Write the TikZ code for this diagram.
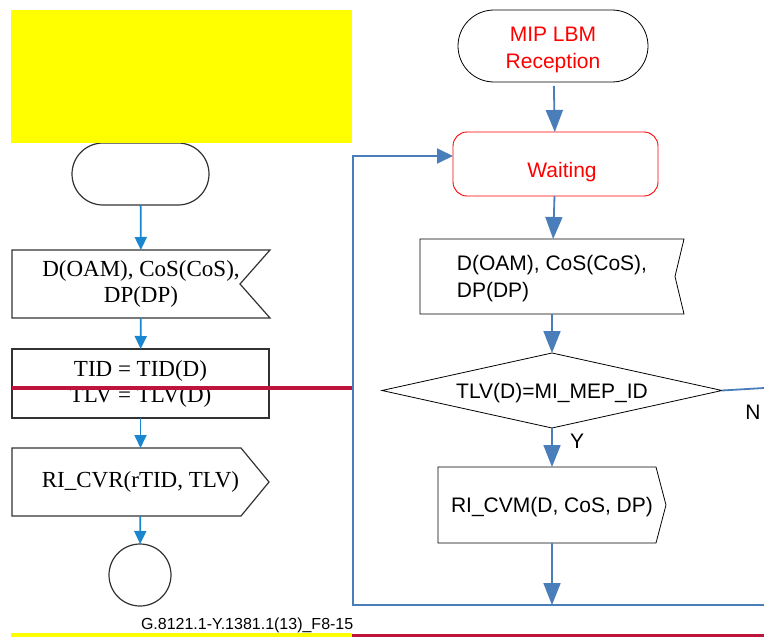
\documentclass[tikz,border=0pt]{standalone}
\usepackage{fontspec}
\setmainfont{Liberation Sans}
\newfontfamily\timesfont{Liberation Serif}
\usetikzlibrary{arrows.meta, shapes.geometric, calc}

\definecolor{leftblue}{RGB}{26,134,207}
\definecolor{rightblue}{RGB}{74,126,187}
\definecolor{crimsonline}{RGB}{190,20,60}
\definecolor{boxgray}{RGB}{50,50,50}
\definecolor{markyellow}{RGB}{255,255,0}

\begin{document}
\begin{tikzpicture}[x=1pt, y=-1pt,
                    every node/.style={inner sep=0pt, outer sep=0pt},
                    leftbox/.style={rectangle, font=\timesfont\fontsize{23}{26}\selectfont, align=center},
                    rightbox/.style={rectangle, font=\fontsize{21}{27}\selectfont, align=center, text depth=0pt},
                    leftline/.style={draw=boxgray, line width=1.2pt, line join=miter},
                    rightline/.style={draw=black, line width=0.8pt, line join=miter},
                    leftarrow/.style={draw=leftblue, line width=1.8pt, -{Triangle[length=13pt, width=12pt]}},
                    rightarrow/.style={draw=rightblue, line width=1.8pt, -{Triangle[length=22pt, width=17pt]}}
                   ]

    \useasboundingbox (0,0) rectangle (764,637);

    % Left column (old figure)
    \node[leftbox, leftline, rounded corners=31pt, minimum width=137pt, minimum height=62pt] (startL) at (140.5,174) {};
    \node[leftbox, minimum width=258pt, minimum height=68pt] (recvL) at (141,284) {D(OAM), CoS(CoS),\\DP(DP)};
    \node[leftbox, leftline, minimum width=257pt, minimum height=69pt] (tidL) at (140.5,383.5) {TID = TID(D)\\TLV = TLV(D)};
    \node[leftbox, minimum width=257pt, minimum height=68pt] (cvrL) at (140.5,482) {RI\_CVR(rTID, TLV)};
    \node[leftbox, leftline, circle, minimum size=62pt] (stopL) at (140,575) {};

    % notch and pointer outlines
    \draw[leftline] (recvL.north west) -- (recvL.north east) -- ($(recvL.east)+(-30,0)$)
        -- (recvL.south east) -- (recvL.south west) -- cycle;
    \draw[leftline] (cvrL.north west) -- ($(cvrL.north east)+(-28,0)$) -- (cvrL.east)
        -- ($(cvrL.south east)+(-28,0)$) -- (cvrL.south west) -- cycle;

    \draw[leftarrow] (startL) -- (recvL);
    \draw[leftarrow] (recvL) -- (tidL);
    \draw[leftarrow] (tidL) -- (cvrL);
    \draw[leftarrow] (cvrL) -- (stopL);

    % Cover boxes and lines
    \fill[markyellow] (11,10) rectangle (352,143);
    \draw[crimsonline, line width=3.5pt] (12,388) -- (352,388);
    \draw[markyellow, line width=4pt] (11,635) -- (352,635);
    \draw[crimsonline, line width=3pt] (352,635) -- (764,635);
    \node[font=\fontsize{16}{18}\selectfont, anchor=west] (figid) at (141,625) {G.8121.1-Y.1381.1(13)\_F8-15};

    % Right column (new figure)
    \node[rightbox, rightline, rounded corners=36pt, minimum width=190pt, minimum height=72pt] (mip) at (553,46) {};
    \node[rightbox, text=red] (miptext) at ($(mip.center)+(0,1.5)$) {MIP LBM\\Reception};
    \node[rightbox, draw=red, line width=0.9pt, rounded corners=14pt, minimum width=205pt, minimum height=64pt] (wait) at (555.5,164) {};
    \node[rightbox, text=red] (waittext) at ($(wait.center)+(6.5,6)$) {Waiting};
    \node[rightbox, minimum width=264pt, minimum height=75pt, align=left] (recvR) at (552,276.5) {D(OAM), CoS(CoS),\\DP(DP)};
    \node[rightbox, rightline, diamond, aspect=4.5, minimum width=340pt, minimum height=75pt] (test) at (552,390.5) {TLV(D)=MI\_MEP\_ID};
    \node[rightbox, minimum width=228pt, minimum height=76pt] (cvm) at (552,505) {RI\_CVM(D, CoS, DP)};

    % notch and pointer outlines
    \draw[rightline] (recvR.north west) -- (recvR.north east) -- ($(recvR.east)+(-9,0)$)
        -- (recvR.south east) -- (recvR.south west) -- cycle;
    \draw[rightline] (cvm.north west) -- ($(cvm.north east)+(-10,0)$) -- (cvm.east)
        -- ($(cvm.south east)+(-10,0)$) -- (cvm.south west) -- cycle;

    % Loop back points
    \coordinate (outN) at (764,388);
    \coordinate (botR) at (764,605);
    \coordinate (botM) at (552,605);
    \coordinate (botL) at (353,605);
    \coordinate (topL) at (353,156);
    \coordinate (inW) at (453,156);

    \draw[rightarrow, shorten <=4pt] (mip) -- (wait);
    \draw[rightarrow] (wait) -- (recvR);
    \draw[rightarrow] (recvR) -- (test);
    \draw[rightarrow] (test) -- node[pos=0.35, right=18pt, font=\fontsize{21}{25}\selectfont] (yes) {Y} (cvm);
    \draw[rightarrow] (cvm) -- (botM);
    \draw[rightblue, line width=1.8pt] (test.east) -- (outN);
    \node[font=\fontsize{21}{25}\selectfont] (no) at (753,412) {N};
    \draw[rightblue, line width=1.8pt, -{Triangle[length=16pt, width=15pt]}] (botR) -- (botL) -- (topL) -- (inW);

\end{tikzpicture}
\end{document}
